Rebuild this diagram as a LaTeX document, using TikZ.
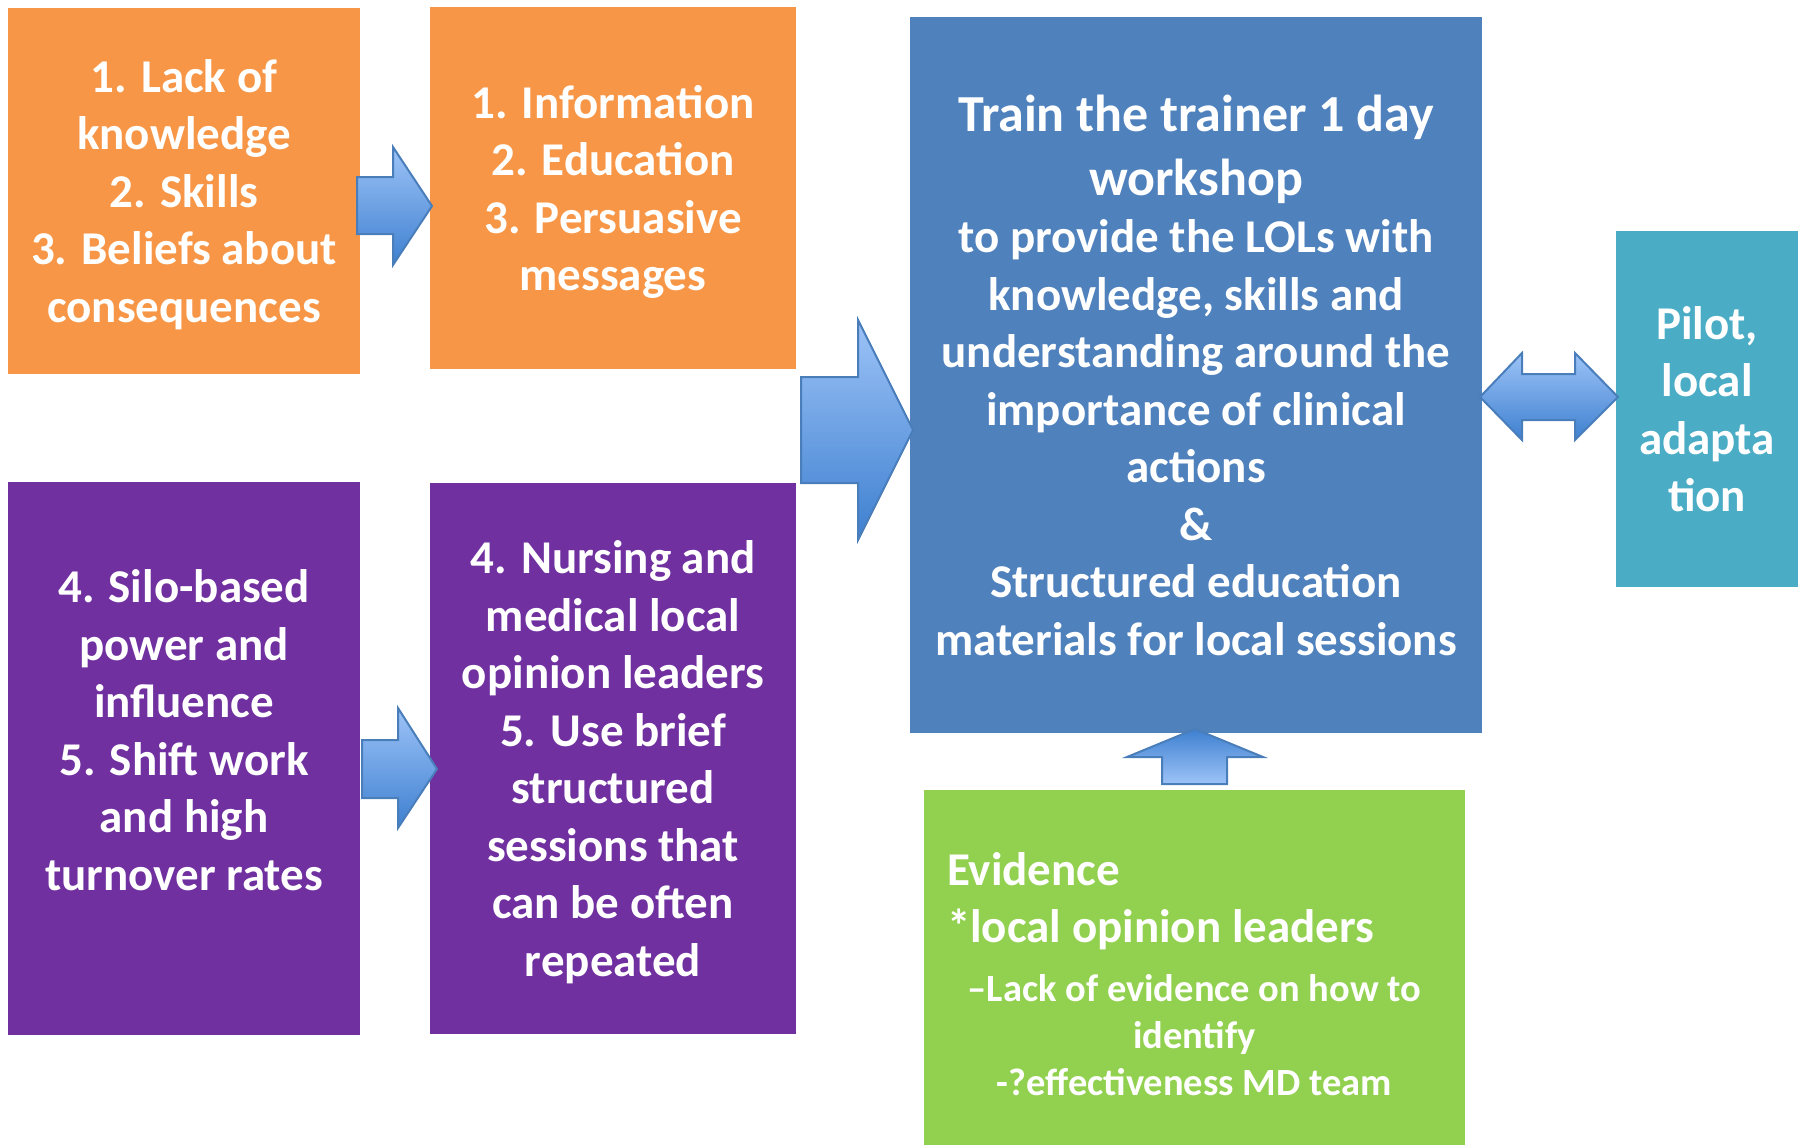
\documentclass[tikz,border=0pt]{standalone}
\usepackage{fontspec}
\setmainfont{Carlito}
\definecolor{barrier}{HTML}{F79646}
\definecolor{culture}{HTML}{7030A0}
\definecolor{workshop}{HTML}{4F81BD}
\definecolor{pilot}{HTML}{4BACC6}
\definecolor{evidence}{HTML}{92D050}
\definecolor{arrowtop}{RGB}{157,195,247}
\definecolor{arrowbottom}{RGB}{62,128,208}
\definecolor{arrowline}{RGB}{74,126,187}
\newcommand\cellfont{\fontsize{47}{57.5}\selectfont\bfseries}
\newcommand\titlefont{\fontsize{52}{64}\selectfont\bfseries}
\newcommand\notefont{\fontsize{38.5}{47}\selectfont\bfseries}
\tikzset{box/.style={rectangle,inner sep=0,text=white,font=\cellfont,align=flush center}}
\tikzset{centre box/.style={box,text depth=0pt}}
\tikzset{block arrow/.style={draw=arrowline,line width=2,line join=miter,top color=arrowtop,bottom color=arrowbottom}}

\begin{document}
\begin{tikzpicture}[x=1pt,y=-1pt]
  \useasboundingbox (0,0) rectangle (1798,1144);

  %barriers
  \node[centre box, fill=barrier, minimum width=352, minimum height=366] (lack) at (184,191)
    {1. Lack of\\knowledge\\2. Skills\\3. Beliefs about\\consequences};
  \node[centre box, fill=culture, minimum width=352, minimum height=553] (silo) at (184,758.5)
    {4. Silo-based\\power and\\influence\\5. Shift work\\and high\\turnover rates\\ \mbox{}};

  %interventions
  \node[centre box, fill=barrier, minimum width=366, minimum height=362] (info) at (613,188)
    {1. Information\\2. Education\\3. Persuasive\\messages};
  \node[centre box, fill=culture, minimum width=366, minimum height=551] (lols) at (613,758.5)
    {4. Nursing and\\medical local\\opinion leaders\\5. Use brief\\structured\\sessions that\\can be often\\repeated};

  %workshop
  \node[box, fill=workshop, minimum width=572, minimum height=716, text width=560] (train) at (1196,375)
    {\titlefont Train the trainer 1 day\\workshop\par
     \cellfont to provide the LOLs with\\knowledge, skills and\\understanding around the\\importance of clinical\\actions\\\&\\Structured education\\materials for local sessions};
  \node[centre box, fill=pilot, minimum width=182, minimum height=356] (pilot) at (1707,409)
    {Pilot,\\local\\adapta\\tion};
  % lower edge runs off the page
  \node[box, fill=evidence, minimum width=541, minimum height=368, text width=495] (evid) at (1194.5,974)
    {\makebox[495pt][l]{Evidence}\\\makebox[495pt][l]{*local opinion leaders}\\[12pt]
     \notefont --Lack of evidence on how to\\identify\\-?effectiveness MD team\par};

  %arrows
  \draw[block arrow] (357,177) -- (393,177) -- (393,147) -- (432,206) -- (393,265) -- (393,234) -- (357,234) -- cycle;
  \draw[block arrow] (362,740) -- (398,740) -- (398,708) -- (437,769) -- (398,828) -- (398,798) -- (362,798) -- cycle;
  \draw[block arrow] (801,377) -- (858,377) -- (858,320) -- (913,430) -- (858,540) -- (858,483) -- (801,483) -- cycle;
  \draw[block arrow] (1480,397) -- (1522,353) -- (1522,374) -- (1575,374) -- (1575,353) -- (1618,397)
    -- (1575,440) -- (1575,420) -- (1522,420) -- (1522,440) -- cycle;
  \draw[block arrow, top color=arrowbottom, bottom color=arrowtop] (1195,729) -- (1263,757) -- (1227,757)
    -- (1227,784) -- (1162,784) -- (1162,757) -- (1127,757) -- cycle;

\end{tikzpicture}
\end{document}
